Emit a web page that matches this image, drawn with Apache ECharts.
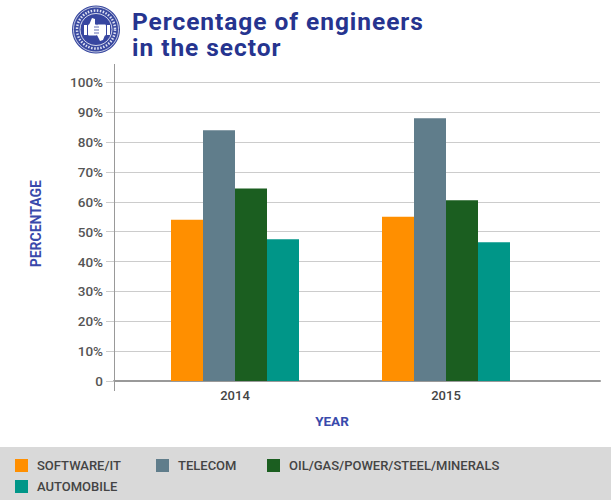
<!DOCTYPE html>
<html>
<head>
<meta charset="utf-8">
<style>
html,body{margin:0;background:#fff}
#chart{width:611px;height:500px}
/* only the heading is letter-spaced in the original */
#chart text[style*="24.5px"]{letter-spacing:.95px}
</style>
<script src="https://cdn.jsdelivr.net/npm/echarts@6/dist/echarts.min.js"></script>
</head>
<body>
<div id="chart"></div>
<script>
const years = [2014, 2015];
const softwareIt = [54, 55];
const telecom = [84, 88];
const oilGas = [64.5, 60.5];
const automobile = [47.5, 46.5];

const seriesNames = ["SOFTWARE/IT", "TELECOM", "OIL/GAS/POWER/STEEL/MINERALS", "AUTOMOBILE"];
const seriesValues = [softwareIt, telecom, oilGas, automobile];
const seriesColors = ["#ff8f00", "#607d8b", "#1b5e20", "#009688"];

const FONT = "Roboto, sans-serif";
const legendSlots = [[15, 459], [156, 459], [267, 459], [15, 480]];

const chart = echarts.init(document.getElementById("chart"), null, { renderer: "svg" });

// the x axis is a value axis: the two years do not sit centred in the plot
chart.setOption({
  animation: false,
  grid: { left: 114, right: 11, top: 82.4, height: 298.6 },
  legend: seriesNames.map((name, i) => ({
    data: [name],
    left: legendSlots[i][0],
    top: legendSlots[i][1],
    itemWidth: 13,
    itemHeight: 13,
    itemGap: 0,
    padding: 0,
    icon: "rect",
    selectedMode: false,
    textStyle: { fontFamily: FONT, fontSize: 13, fontWeight: 500, color: "#444", padding: [0, 0, 0, 4] }
  })),
  xAxis: {
    type: "value",
    min: 2014 - 121 / 211,
    max: 2015 + 154 / 211,
    containShape: false,
    name: "YEAR",
    nameLocation: "middle",
    nameGap: 33,
    nameTextStyle: { fontFamily: FONT, fontSize: 13.5, fontWeight: "bold", color: "#3949ab", padding: [0, 50, 0, 0] },
    splitLine: { show: false },
    axisTick: { show: false },
    axisLine: { show: true, onZero: false, lineStyle: { color: "#999", width: 2 } },
    axisLabel: {
      customValues: years,
      formatter: v => String(v),
      margin: 8,
      fontFamily: FONT, fontSize: 13, fontWeight: 500, color: "#444"
    }
  },
  yAxis: {
    type: "value",
    min: 0,
    max: 100,
    interval: 10,
    name: "PERCENTAGE",
    nameLocation: "middle",
    nameGap: 71,
    nameRotate: 90,
    nameTextStyle: { fontFamily: FONT, fontSize: 14, fontWeight: "bold", color: "#3949ab", padding: [0, 0, 0, 16] },
    splitLine: { lineStyle: { color: "#ccc", width: 1 } },
    axisLine: { show: true, lineStyle: { color: "#999", width: 1 } },
    axisTick: { show: true, length: 8, lineStyle: { color: "#ccc" } },
    axisLabel: {
      margin: 11,
      formatter: v => (v > 0 ? v + "%" : "0"),
      padding: [2, 0, 0, 0],
      fontFamily: FONT, fontSize: 13.5, fontWeight: 500, color: "#555"
    }
  },
  series: seriesNames.map((name, i) => ({
    name,
    type: "bar",
    barWidth: 32,
    barGap: "0%",
    itemStyle: { color: seriesColors[i] },
    data: years.map((y, j) => [y, seriesValues[i][j]])
  })),
  graphic: [
    { type: "rect", z: -10, shape: { x: 0, y: 447, width: 611, height: 53 }, style: { fill: "#d9d9d9" } },
    // y axis line runs past both ends of the scale
    { type: "line", shape: { x1: 114.5, y1: 64, x2: 114.5, y2: 82 }, style: { stroke: "#999", lineWidth: 1 } },
    { type: "line", shape: { x1: 114.5, y1: 381, x2: 114.5, y2: 391 }, style: { stroke: "#999", lineWidth: 1 } },
    { type: "text", left: 132, top: 8, style: { text: "Percentage of engineers\nin the sector", font: "bold 24.5px Roboto, sans-serif", fill: "#26348f", lineHeight: 26 } },
    // logo
    { type: "circle", shape: { cx: 96, cy: 29.5, r: 24 }, style: { fill: "#3949a0" } },
    { type: "circle", shape: { cx: 96, cy: 29.5, r: 22.5 }, style: { fill: "none", stroke: "#fff", lineWidth: 0.7 } },
    { type: "circle", shape: { cx: 96, cy: 29.5, r: 19 }, style: { fill: "none", stroke: "#dfe2f3", lineWidth: 2.5, lineDash: [1.5, 1.5] } },
    { type: "circle", shape: { cx: 96, cy: 29.5, r: 16 }, style: { fill: "#3746a0", stroke: "#fff", lineWidth: 0.8 } },
    { type: "rect", shape: { x: 84, y: 25, width: 3, height: 10 }, style: { fill: "#fff" } },
    { type: "rect", shape: { x: 88, y: 24.5, width: 9, height: 11, r: 1 }, style: { fill: "#fff" } },
    { type: "rect", shape: { x: 97, y: 24.5, width: 9, height: 11, r: 1 }, style: { fill: "#fff" } },
    { type: "rect", shape: { x: 107, y: 25, width: 3, height: 10 }, style: { fill: "#fff" } },
    { type: "polygon", shape: { points: [[89, 25], [92, 18], [95, 19], [95, 25]] }, style: { fill: "#fff" } },
    { type: "polygon", shape: { points: [[97, 35], [100, 41], [103, 40], [105, 35]] }, style: { fill: "#fff" } },
    { type: "line", shape: { x1: 94, y1: 27, x2: 99, y2: 27 }, style: { stroke: "#3746a0", lineWidth: 0.8 } },
    { type: "line", shape: { x1: 94, y1: 30, x2: 99, y2: 30 }, style: { stroke: "#3746a0", lineWidth: 0.8 } },
    { type: "line", shape: { x1: 94, y1: 33, x2: 99, y2: 33 }, style: { stroke: "#3746a0", lineWidth: 0.8 } }
  ]
});
</script>
</body>
</html>
